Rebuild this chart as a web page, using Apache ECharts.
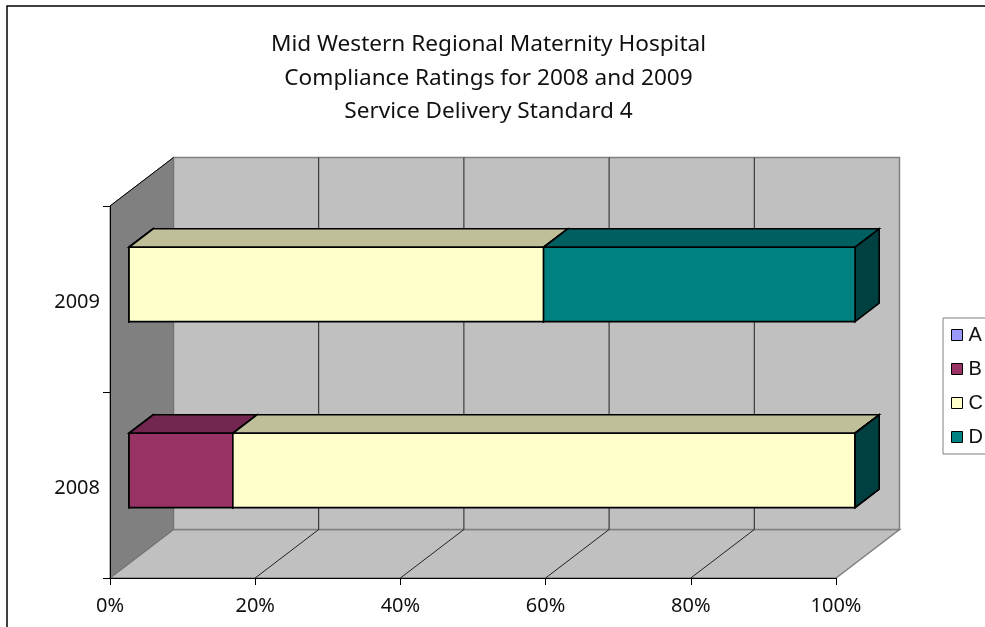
<!DOCTYPE html>
<html>
<head>
<meta charset="utf-8">
<style>
  html, body { margin: 0; padding: 0; background: #fff; overflow: hidden; }
  #chart { width: 985px; height: 627px; }
</style>
<script src="https://cdn.jsdelivr.net/npm/echarts@6/dist/echarts.min.js"></script>
</head>
<body>
<div id="chart"></div>
<script>
const years = ['2008', '2009'];
const ratingA = [0, 0];
const ratingB = [14.3, 0];
const ratingC = [85.7, 57.1];
const ratingD = [0, 42.9];
const percentTicks = [0, 20, 40, 60, 80, 100];
const seriesNames = ['A', 'B', 'C', 'D'];
const seriesValues = [ratingA, ratingB, ratingC, ratingD];

const seriesColors = ['#9999FF', '#993366', '#FFFFCC', '#008080'];
const topColors = ['#737399', '#732650', '#BFBF99', '#006060'];
const sideColors = ['#4D4D80', '#4D1A33', '#808066', '#004040'];

const fontFamily = '"Noto Sans", sans-serif';

// oblique depth of the fake 3D box, in pixels
const depthX = 63.5;
const depthY = -48.5;
// where the bars sit inside that depth (0 = front plane, 1 = back wall)
const barFront = 0.3;
const barBack = 0.68;
const bandFill = 0.4;

function shift(p, d) {
  return [p[0] + depthX * d, p[1] + depthY * d];
}

function poly(points, fill, stroke, width) {
  return {
    type: 'polygon',
    shape: { points },
    style: { fill, stroke, lineWidth: width, lineJoin: 'miter' }
  };
}

function line(a, b, stroke, width) {
  return {
    type: 'line',
    shape: { x1: a[0], y1: a[1], x2: b[0], y2: b[1] },
    style: { stroke, lineWidth: width, fill: null }
  };
}

function renderWalls(params, api) {
  const band = api.size([0, 1])[1];
  const yBottom = api.coord([0, 0])[1] + band / 2;
  const yTop = api.coord([0, years.length - 1])[1] - band / 2;
  const xAt = (t) => api.coord([t, 0])[0];
  const fl = [xAt(0), yBottom];
  const fr = [xAt(100), yBottom];
  const tl = [xAt(0), yTop];
  const tr = [xAt(100), yTop];
  const children = [
    // floor
    poly([fl, fr, shift(fr, 1), shift(fl, 1)], '#C0C0C0', '#808080', 1.5),
    // back wall
    poly([shift(fl, 1), shift(fr, 1), shift(tr, 1), shift(tl, 1)], '#C0C0C0', '#808080', 1.5),
    // side wall
    poly([fl, shift(fl, 1), shift(tl, 1), tl], '#808080', '#707070', 1)
  ];
  children.push(line(tl, shift(tl, 1), '#000', 1));
  percentTicks.slice(1, -1).forEach((t) => {
    const a = [xAt(t), yBottom];
    const b = [xAt(t), yTop];
    children.push(line(a, shift(a, 1), '#222', 1));
    children.push(line(shift(a, 1), shift(b, 1), '#222', 1));
  });
  return { type: 'group', children };
}

function renderBar(seriesIndex) {
  return function (params, api) {
    const cat = api.value(0);
    const start = api.value(1);
    const end = api.value(2);
    const band = api.size([0, 1])[1] * bandFill / 2;
    const l = api.coord([start, cat]);
    const r = api.coord([end, cat]);
    const ft = shift([l[0], l[1] - band], barFront);
    const fb = shift([l[0], l[1] + band], barFront);
    const rt = shift([r[0], r[1] - band], barFront);
    const rb = shift([r[0], r[1] + band], barFront);
    const d = barBack - barFront;
    return {
      type: 'group',
      children: [
        poly([ft, rt, shift(rt, d), shift(ft, d)], topColors[seriesIndex], '#000', 1.6),
        poly([rt, rb, shift(rb, d), shift(rt, d)], sideColors[seriesIndex], '#000', 1.6),
        poly([ft, rt, rb, fb], seriesColors[seriesIndex], '#000', 1.6)
      ]
    };
  };
}

function stackedRows(index) {
  return years.map((y, cat) => {
    let start = 0;
    for (let i = 0; i < index; i++) start += seriesValues[i][cat];
    return [cat, start, start + seriesValues[index][cat]];
  });
}

const barSeries = seriesNames.map((name, i) => ({
  name,
  type: 'custom',
  coordinateSystem: 'cartesian2d',
  renderItem: renderBar(i),
  encode: { x: [1, 2], y: 0 },
  data: stackedRows(i),
  itemStyle: { color: seriesColors[i] },
  z: 5
}));

const chart = echarts.init(document.getElementById('chart'));
chart.setOption({
  animation: false,
  backgroundColor: '#fff',
  title: {
    text: 'Mid Western Regional Maternity Hospital\nCompliance Ratings for 2008 and 2009\nService Delivery Standard 4',
    left: 483.5,
    top: 23,
    textAlign: 'center',
    textStyle: { fontFamily, fontSize: 22.6, fontWeight: 'normal', color: '#111', lineHeight: 33.5 }
  },
  legend: {
    orient: 'vertical',
    left: 943,
    top: 318,
    data: seriesNames,
    icon: 'rect',
    itemWidth: 11,
    itemHeight: 11,
    itemGap: 14,
    padding: [7, 40, 7, 8],
    borderColor: '#808080',
    borderWidth: 1,
    itemStyle: { borderColor: '#000', borderWidth: 1 },
    textStyle: { fontFamily: '"Liberation Sans", sans-serif', fontSize: 20, lineHeight: 20, color: '#111', padding: [0, 0, 0, 1] }
  },
  grid: { left: 110, top: 206, width: 726, height: 372, containLabel: false },
  xAxis: {
    type: 'value',
    min: 0,
    max: 100,
    interval: 20,
    z: 6,
    axisLine: { show: true, lineStyle: { color: '#000', width: 1 } },
    axisTick: { show: true, length: 7, lineStyle: { color: '#000' } },
    axisLabel: { formatter: '{value}%', fontFamily, fontSize: 20, color: '#111', margin: 18 },
    splitLine: { show: false }
  },
  yAxis: {
    type: 'category',
    data: years,
    z: 6,
    axisLine: { show: true, lineStyle: { color: '#000', width: 1 } },
    axisTick: { show: true, length: 7, lineStyle: { color: '#000' } },
    axisLabel: { fontFamily, fontSize: 20, color: '#111', margin: 10, lineHeight: 26, verticalAlign: 'top', padding: [-10, 0, 0, 0] },
    splitLine: { show: false }
  },
  graphic: [{
    type: 'rect',
    silent: true,
    z: 100,
    shape: { x: 7, y: 6, width: 1100, height: 800 },
    style: { fill: null, stroke: '#000', lineWidth: 1.5 }
  }],
  series: [{
    type: 'custom',
    coordinateSystem: 'cartesian2d',
    renderItem: renderWalls,
    data: [[0, 0]],
    silent: true,
    z: 1
  }].concat(barSeries)
});
</script>
</body>
</html>
